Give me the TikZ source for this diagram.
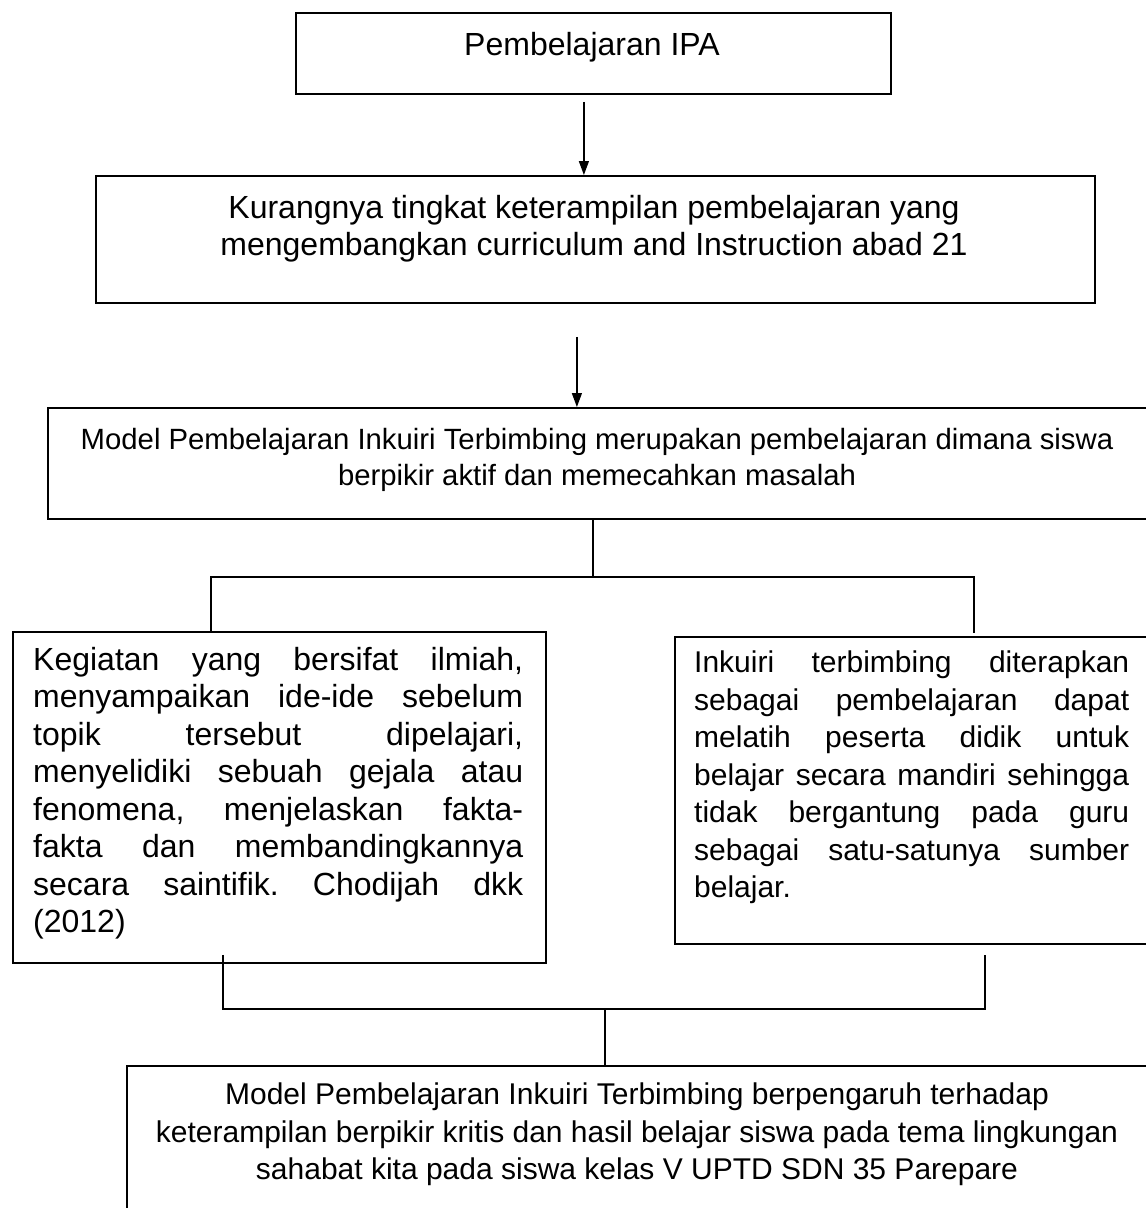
\documentclass[tikz,border=0pt]{standalone}
\usepackage{fontspec}
\setmainfont{Liberation Sans}
\usetikzlibrary{arrows.meta,calc}
\frenchspacing
\newcommand\jline[2]{\makebox[#1][s]{\spaceskip=0pt\xspaceskip=0pt #2}}
\begin{document}
\begin{tikzpicture}[x=1pt,y=-1pt,
  box/.style={draw, line width=1.8pt, inner sep=0pt, anchor=north west},
  conn/.style={line width=1.2pt},
  arr/.style={line width=1.3pt, -{Triangle[length=14pt,width=10pt]}},
  txt/.style={inner sep=0pt, align=center},
  f32/.style={font=\fontsize{32}{37.5}\selectfont},
  f30/.style={font=\fontsize{30}{37.5}\selectfont},
  f29/.style={font=\fontsize{29.3}{36}\selectfont},
  jbox/.style={inner sep=0pt, anchor=north west, align=left},
 ]
\useasboundingbox (0,0) rectangle (1146,1208);
\fill[white] (0,0) rectangle (1146,1208);
\clip (0,0) rectangle (1146,1208);

% boxes
\node[box, minimum width=595pt, minimum height=81pt] (b1) at (295,12) {};
\node[box, minimum width=999pt, minimum height=127pt] (b2) at (95,175) {};
\node[box, minimum width=1120pt, minimum height=111pt] (b3) at (47,407) {};
\node[box, minimum width=533pt, minimum height=331pt] (bl) at (12,631) {};
\node[box, minimum width=490pt, minimum height=307pt] (br) at (674,636) {};
\node[box, minimum width=1040pt, minimum height=160pt] (b5) at (126,1065) {};

% texts
\node[txt, f32, anchor=base] (t1) at (592,55) {Pembelajaran IPA};
\node[txt, f32, anchor=north] (t2) at (594,195) {Kurangnya tingkat keterampilan pembelajaran yang\\mengembangkan curriculum and Instruction abad 21};
\node[txt, f29, anchor=north] (t3) at (597,428) {Model Pembelajaran Inkuiri Terbimbing merupakan pembelajaran dimana siswa\\berpikir aktif dan memecahkan masalah};
\node[jbox, f32, text width=490pt] (tl) at (33,647) {%
\jline{490pt}{Kegiatan yang bersifat ilmiah,}\\
\jline{490pt}{menyampaikan ide-ide sebelum}\\
\jline{490pt}{topik tersebut dipelajari,}\\
\jline{490pt}{menyelidiki sebuah gejala atau}\\
\jline{490pt}{fenomena, menjelaskan fakta-}\\
\jline{490pt}{fakta dan membandingkannya}\\
\jline{490pt}{secara saintifik. Chodijah dkk}\\
(2012)};
\node[jbox, f30, text width=435pt] (tr) at (694,651) {%
\jline{435pt}{Inkuiri terbimbing diterapkan}\\
\jline{435pt}{sebagai pembelajaran dapat}\\
\jline{435pt}{melatih peserta didik untuk}\\
\jline{435pt}{belajar secara mandiri sehingga}\\
\jline{435pt}{tidak bergantung pada guru}\\
\jline{435pt}{sebagai satu-satunya sumber}\\
belajar.};
\node[txt, f30, anchor=north] (t5) at (637,1083) {Model Pembelajaran Inkuiri Terbimbing berpengaruh terhadap\\keterampilan berpikir kritis dan hasil belajar siswa pada tema lingkungan\\sahabat kita pada siswa kelas V UPTD SDN 35 Parepare};

% arrows
\draw[arr] ([xshift=-9.5pt,yshift=-7pt]b1.south) -- ([xshift=-9.5pt]b1.south |- b2.north);
\draw[arr] ([xshift=-18.5pt,yshift=-33pt]b2.south) -- ([xshift=-18.5pt]b2.south |- b3.north);

% upper tree
\coordinate (ja) at (593,577);
\coordinate (la) at (211,577);
\coordinate (ra) at (974,577);
\draw[conn] (b3.south -| ja) -- (ja);
\draw[conn] (la |- bl.north) -- (la) -- (ra) -- ([yshift=3pt]ra |- br.north);

% lower tree
\coordinate (lb) at (223,1009);
\coordinate (rb) at (985,1009);
\coordinate (jb) at (605,1009);
\draw[conn] ([yshift=9pt]lb |- bl.south) -- (lb) -- (rb) -- ([yshift=-10pt]rb |- br.south);
\draw[conn] (jb) -- (jb |- b5.north);
\end{tikzpicture}
\end{document}
